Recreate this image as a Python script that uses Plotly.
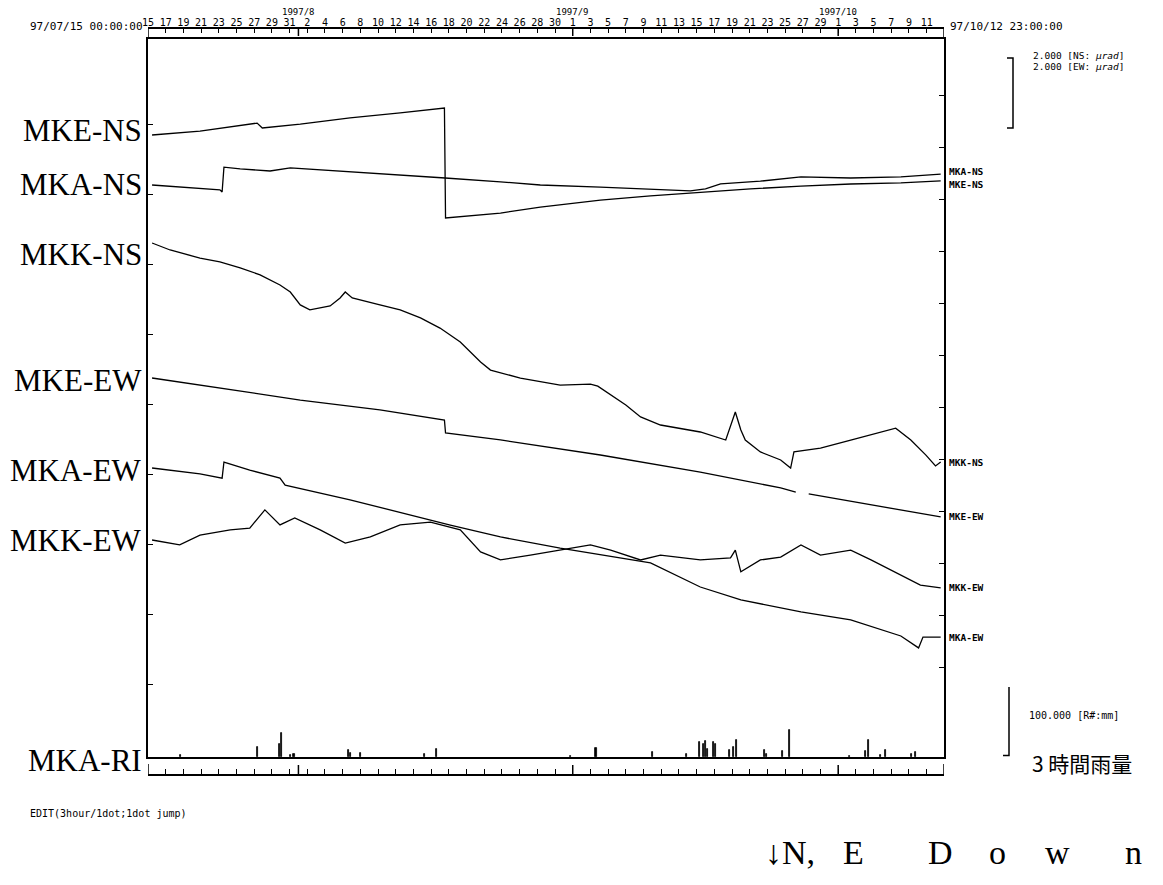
import plotly.graph_objects as go
import pandas as pd

# ---------------- data (tilt change in micro-radians, relative to start) ----------------
mke_ns_t = ["1997-07-15 11:00", "1997-07-20 21:00", "1997-07-27 08:00", "1997-07-27 22:00", "1997-08-01 05:00",
            "1997-08-06 20:00", "1997-08-12 12:00", "1997-08-17 12:00", "1997-08-17 15:00", "1997-08-23 20:00",
            "1997-08-28 08:00", "1997-09-04 03:00", "1997-09-09 19:00", "1997-09-15 10:00", "1997-09-21 02:00",
            "1997-09-26 19:00", "1997-10-02 10:00", "1997-10-08 02:00", "1997-10-12 14:00"]
mke_ns_v = [0.00, 0.11, 0.34, 0.20, 0.31, 0.49, 0.63, 0.77, -2.37, -2.23,
            -2.06, -1.86, -1.74, -1.63, -1.54, -1.46, -1.40, -1.37, -1.31]

mka_ns_t = ["1997-07-15 11:00", "1997-07-18 14:00", "1997-07-20 21:00", "1997-07-23 03:00", "1997-07-23 09:00",
            "1997-07-23 14:00", "1997-07-25 10:00", "1997-07-28 19:00", "1997-07-31 02:00", "1997-08-03 11:00",
            "1997-08-06 20:00", "1997-08-12 12:00", "1997-08-17 14:00", "1997-08-23 20:00", "1997-08-28 08:00",
            "1997-09-04 03:00", "1997-09-09 19:00", "1997-09-14 07:00", "1997-09-16 00:00", "1997-09-17 17:00",
            "1997-09-22 05:00", "1997-09-25 15:00", "1997-09-26 19:00", "1997-10-02 10:00", "1997-10-08 02:00",
            "1997-10-12 14:00"]
mka_ns_v = [0.00, -0.06, -0.09, -0.14, -0.20, 0.51, 0.46, 0.40, 0.49, 0.43,
            0.37, 0.29, 0.20, 0.09, 0.00, -0.06, -0.11, -0.17, -0.11, 0.03,
            0.11, 0.20, 0.23, 0.20, 0.23, 0.31]

mkk_ns_t = ["1997-07-15 11:00", "1997-07-17 12:00", "1997-07-20 21:00", "1997-07-23 03:00", "1997-07-25 10:00",
            "1997-07-27 16:00", "1997-07-29 22:00", "1997-07-31 02:00", "1997-08-01 05:00", "1997-08-02 07:00",
            "1997-08-04 14:00", "1997-08-05 17:00", "1997-08-06 07:00", "1997-08-07 02:00", "1997-08-10 05:00",
            "1997-08-12 12:00", "1997-08-14 19:00", "1997-08-17 00:00", "1997-08-19 07:00", "1997-08-20 10:00",
            "1997-08-21 14:00", "1997-08-22 17:00", "1997-08-26 02:00", "1997-08-30 14:00", "1997-09-03 00:00",
            "1997-09-03 20:00", "1997-09-05 07:00", "1997-09-07 00:00", "1997-09-08 16:00", "1997-09-10 22:00",
            "1997-09-15 10:00", "1997-09-18 07:00", "1997-09-19 09:00", "1997-09-20 00:00", "1997-09-20 12:00",
            "1997-09-22 05:00", "1997-09-24 12:00", "1997-09-25 15:00", "1997-09-26 00:00", "1997-09-29 00:00",
            "1997-10-02 10:00", "1997-10-05 19:00", "1997-10-07 12:00", "1997-10-09 05:00", "1997-10-10 22:00",
            "1997-10-12 00:00", "1997-10-12 14:00"]
mkk_ns_v = [0.00, -0.20, -0.43, -0.54, -0.71, -0.91, -1.20, -1.40, -1.77, -1.91,
            -1.80, -1.57, -1.40, -1.57, -1.77, -1.91, -2.14, -2.43, -2.83, -3.11,
            -3.40, -3.63, -3.86, -4.06, -4.03, -4.09, -4.34, -4.63, -4.97, -5.20,
            -5.40, -5.63, -4.83, -5.34, -5.63, -5.97, -6.20, -6.43, -5.97, -5.86,
            -5.63, -5.40, -5.29, -5.63, -6.06, -6.37, -6.26]

mke_ew_t = ["1997-07-15 11:00", "1997-07-23 03:00", "1997-08-01 05:00", "1997-08-10 05:00", "1997-08-17 12:00",
            "1997-08-17 15:00", "1997-08-23 20:00", "1997-09-04 03:00", "1997-09-15 10:00", "1997-09-24 12:00",
            "1997-09-26 05:00", "1997-09-27 00:00", "1997-09-27 16:00", "1997-10-04 17:00", "1997-10-12 14:00"]
mke_ew_v = [0.00, -0.29, -0.63, -0.91, -1.20, -1.57, -1.77, -2.20, -2.69, -3.14,
            -3.26, None, -3.31, -3.63, -3.97]

mka_ew_t = ["1997-07-15 11:00", "1997-07-20 21:00", "1997-07-23 09:00", "1997-07-23 14:00", "1997-07-26 12:00",
            "1997-07-29 22:00", "1997-07-30 12:00", "1997-08-06 20:00", "1997-08-18 04:00", "1997-08-23 20:00",
            "1997-08-30 14:00", "1997-09-09 19:00", "1997-09-15 10:00", "1997-09-20 00:00", "1997-09-26 19:00",
            "1997-10-02 10:00", "1997-10-08 02:00", "1997-10-10 02:00", "1997-10-10 14:00", "1997-10-12 14:00"]
mka_ew_v = [0.00, -0.17, -0.29, 0.17, -0.06, -0.29, -0.49, -0.91, -1.63, -1.97,
            -2.29, -2.71, -3.40, -3.77, -4.11, -4.34, -4.80, -5.14, -4.83, -4.83]

mkk_ew_t = ["1997-07-15 11:00", "1997-07-18 14:00", "1997-07-20 21:00", "1997-07-24 07:00", "1997-07-26 12:00",
            "1997-07-28 05:00", "1997-07-29 22:00", "1997-07-31 14:00", "1997-08-03 11:00", "1997-08-06 07:00",
            "1997-08-09 03:00", "1997-08-12 12:00", "1997-08-15 22:00", "1997-08-19 07:00", "1997-08-21 14:00",
            "1997-08-23 20:00", "1997-08-27 05:00", "1997-08-30 14:00", "1997-09-03 00:00", "1997-09-05 07:00",
            "1997-09-08 16:00", "1997-09-10 22:00", "1997-09-15 10:00", "1997-09-18 20:00", "1997-09-19 09:00",
            "1997-09-20 00:00", "1997-09-22 05:00", "1997-09-24 12:00", "1997-09-26 19:00", "1997-09-29 00:00",
            "1997-10-02 10:00", "1997-10-04 17:00", "1997-10-08 02:00", "1997-10-10 07:00", "1997-10-12 14:00"]
mkk_ew_v = [0.00, -0.14, 0.14, 0.29, 0.34, 0.86, 0.43, 0.63, 0.29, -0.09,
            0.09, 0.43, 0.51, 0.29, -0.34, -0.57, -0.43, -0.29, -0.14, -0.29,
            -0.57, -0.43, -0.57, -0.51, -0.29, -0.91, -0.57, -0.49, -0.14, -0.43,
            -0.29, -0.57, -1.00, -1.29, -1.37]

# 3-hour rainfall at MKA (mm)
rain_t = ["1997-07-18 15:00", "1997-07-27 09:00", "1997-07-29 21:00", "1997-07-30 03:00", "1997-07-31 03:00",
          "1997-07-31 12:00", "1997-08-06 15:00", "1997-08-06 21:00", "1997-08-08 00:00", "1997-08-15 06:00",
          "1997-08-16 15:00", "1997-08-31 18:00", "1997-09-03 15:00", "1997-09-10 00:00", "1997-09-13 21:00",
          "1997-09-15 09:00", "1997-09-15 18:00", "1997-09-16 00:00", "1997-09-16 06:00", "1997-09-16 21:00",
          "1997-09-17 03:00", "1997-09-18 18:00", "1997-09-19 03:00", "1997-09-19 12:00", "1997-09-22 15:00",
          "1997-09-22 21:00", "1997-09-24 18:00", "1997-09-25 12:00", "1997-10-02 06:00", "1997-10-04 03:00",
          "1997-10-04 09:00", "1997-10-05 18:00", "1997-10-06 09:00", "1997-10-09 06:00", "1997-10-09 18:00"]
rain_mm = [3, 15, 18, 34, 3, 5, 10, 6, 6, 5,
           12, 2, 13, 7, 4, 22, 18, 23, 12, 21,
           19, 10, 15, 24, 10, 5, 8, 39, 2, 8,
           25, 3, 10, 4, 7]

top_tick_labels = ["15", "17", "19", "21", "23", "25", "27", "29", "31",
                   "2", "4", "6", "8", "10", "12", "14", "16", "18", "20", "22", "24", "26", "28", "30",
                   "1", "3", "5", "7", "9", "11", "13", "15", "17", "19", "21", "23", "25", "27", "29",
                   "1", "3", "5", "7", "9", "11"]
month_labels = ["1997/8", "1997/9", "1997/10"]
month_starts = ["1997-08-01", "1997-09-01", "1997-10-01"]

series_names = ["MKE-NS", "MKA-NS", "MKK-NS", "MKE-EW", "MKA-EW", "MKK-EW"]

# ---------------- layout parameters (reference pixel coordinates) ----------------
BODY = 8
W, H = 1163 - 2 * BODY, 885 - 2 * BODY
REF_L, REF_R, REF_T, REF_B = 148, 944, 28, 775   # plotting area edges in reference pixels
ML, MT = REF_L - BODY, REF_T - BODY
MR = W - (REF_R - BODY)
MB = H - (REF_B - BODY)
PW = W - ML - MR
PH = H - MT - MB
X0, X1 = "1997-07-15 00:00", "1997-10-12 23:00"
FRAME_TOP, FRAME_BOT = 39, 757
PX_PER_URAD = 35.0


def py(p):  # reference pixel row -> paper y
    return (REF_B - p) / PH


def px(p):  # reference pixel column -> paper x
    return (p - REF_L) / PW


def uy(p):  # reference pixel row -> main y-axis value
    return -(p - FRAME_TOP) / PX_PER_URAD


# vertical placement of each trace (position of the start point)
offsets = {"MKE-NS": uy(135), "MKA-NS": uy(185), "MKK-NS": uy(243),
           "MKE-EW": uy(378), "MKA-EW": uy(468), "MKK-EW": uy(540)}
left_label_shift = {"MKE-NS": 4, "MKA-NS": 0, "MKK-NS": -12, "MKE-EW": -2, "MKA-EW": -2, "MKK-EW": 0}
right_label_shift = {"MKE-NS": -4, "MKA-NS": 3, "MKK-NS": 0, "MKE-EW": 0, "MKA-EW": 0, "MKK-EW": 0}

data = {
    "MKE-NS": (mke_ns_t, mke_ns_v),
    "MKA-NS": (mka_ns_t, mka_ns_v),
    "MKK-NS": (mkk_ns_t, mkk_ns_v),
    "MKE-EW": (mke_ew_t, mke_ew_v),
    "MKA-EW": (mka_ew_t, mka_ew_v),
    "MKK-EW": (mkk_ew_t, mkk_ew_v),
}

MONO = "DejaVu Sans Mono"
SERIF = "Liberation Serif"

fig = go.Figure()

for name in series_names:
    t, v = data[name]
    off = offsets[name]
    yy = [None if val is None else val + off for val in v]
    fig.add_trace(go.Scatter(x=t, y=yy, mode="lines", connectgaps=False,
                             line=dict(color="black", width=1.3), showlegend=False,
                             hoverinfo="skip", name=name))

fig.add_trace(go.Bar(x=rain_t, y=rain_mm, xaxis="x", yaxis="y2",
                     width=3 * 3600 * 1000, marker=dict(color="black", line=dict(color="black", width=0.8)),
                     showlegend=False, hoverinfo="skip"))

# helper traces so the extra axes are drawn
fig.add_trace(go.Scatter(x=[X0, X1], y=[None, None], xaxis="x2", yaxis="y", showlegend=False, hoverinfo="skip"))
fig.add_trace(go.Scatter(x=[X0, X1], y=[None, None], xaxis="x3", yaxis="y", showlegend=False, hoverinfo="skip"))
fig.add_trace(go.Scatter(x=[X0, X1], y=[None, None], xaxis="x", yaxis="y3", showlegend=False, hoverinfo="skip"))

tick_dates = list(pd.date_range("1997-07-15", periods=len(top_tick_labels), freq="2D"))
y_range = [uy(FRAME_BOT), 0]
left_ticks = [uy(p) for p in range(124, 740, 70)]
right_ticks = [uy(p) for p in range(95, 740, 52)]

fig.update_layout(
    width=W, height=H, margin=dict(l=ML, r=MR, t=MT, b=MB, pad=0, autoexpand=False),
    paper_bgcolor="white", plot_bgcolor="white", bargap=0,
    xaxis=dict(type="date", range=[X0, X1], domain=[0, 1], anchor="y", showline=True, mirror=True,
               linecolor="black", linewidth=1.5, showgrid=False, zeroline=False, ticks="", showticklabels=False),
    xaxis2=dict(type="date", range=[X0, X1], overlaying="x", anchor="free", position=1, side="top",
                tickmode="array", tickvals=tick_dates, ticktext=top_tick_labels, ticks="inside", ticklen=4,
                tickwidth=1.3, tickcolor="black", showline=True, linecolor="black", linewidth=1.5,
                showgrid=False, zeroline=False, tickangle=0, automargin=False, ticklabelstandoff=-3,
                tickfont=dict(family=MONO, size=10, color="black")),
    xaxis3=dict(type="date", range=[X0, X1], overlaying="x", anchor="free", position=0, side="bottom",
                tickmode="array", tickvals=tick_dates, ticks="inside", ticklen=5, tickwidth=1.3,
                tickcolor="black", showline=True, linecolor="black", linewidth=1.5, showgrid=False,
                zeroline=False, showticklabels=False),
    yaxis=dict(domain=[py(FRAME_BOT), py(FRAME_TOP)], range=y_range, anchor="x", showline=True, mirror=True,
               linecolor="black", linewidth=1.5, ticks="inside", ticklen=5, tickcolor="black",
               tickmode="array", tickvals=left_ticks, showticklabels=False, showgrid=False, zeroline=False),
    yaxis2=dict(domain=[py(FRAME_BOT), py(687)], range=[0, 100], anchor="x", visible=False),
    yaxis3=dict(range=y_range, overlaying="y", side="right", anchor="x", ticks="inside", ticklen=5,
                tickcolor="black", tickmode="array", tickvals=right_ticks, showticklabels=False,
                showline=False, showgrid=False, zeroline=False),
)

shapes = []
# long month ticks and end caps on top and bottom time bars
for d in month_starts:
    shapes.append(dict(type="line", xref="x", yref="paper", x0=d, x1=d, y0=1, y1=py(REF_T + 8),
                       line=dict(color="black", width=1.5)))
    shapes.append(dict(type="line", xref="x", yref="paper", x0=d, x1=d, y0=0, y1=py(REF_B - 10),
                       line=dict(color="black", width=1.5)))
for d in [X0, X1]:
    shapes.append(dict(type="line", xref="x", yref="paper", x0=d, x1=d, y0=1, y1=py(REF_T + 9),
                       line=dict(color="black", width=1.5)))
    shapes.append(dict(type="line", xref="x", yref="paper", x0=d, x1=d, y0=0, y1=py(REF_B - 11),
                       line=dict(color="black", width=1.5)))
# scale bracket 2 micro-rad
yb0 = uy(58)
shapes.append(dict(type="path", xref="paper", yref="y",
                   path=f"M {px(1007)},{yb0} L {px(1013)},{yb0} L {px(1013)},{yb0 - 2} L {px(1007)},{yb0 - 2}",
                   line=dict(color="black", width=1.5)))
# rain scale bracket 100 mm
shapes.append(dict(type="path", xref="paper", yref="y2",
                   path=f"M {px(1003)},102 L {px(1009)},102 L {px(1009)},2 L {px(1003)},2",
                   line=dict(color="black", width=1.5)))
fig.update_layout(shapes=shapes)

ann = []
for name in series_names:
    t, v = data[name]
    ann.append(dict(text=name, xref="paper", yref="y", x=px(144), y=offsets[name], xanchor="right",
                    yanchor="middle", yshift=left_label_shift[name], showarrow=False,
                    font=dict(family=SERIF, size=31, color="black")))
    last = [val for val in v if val is not None][-1]
    ann.append(dict(text="<b>" + name + "</b>", xref="paper", yref="y", x=px(947), y=last + offsets[name],
                    xanchor="left", yanchor="middle", yshift=right_label_shift[name], showarrow=False,
                    font=dict(family=MONO, size=9.5, color="black")))
ann.append(dict(text="MKA-RI", xref="paper", yref="y2", x=px(144), y=0, yshift=-3, xanchor="right",
                yanchor="middle", showarrow=False, font=dict(family=SERIF, size=31, color="black")))
for lab, d in zip(month_labels, month_starts):
    ann.append(dict(text=lab, xref="x", yref="paper", x=d, y=py(12), xanchor="center", yanchor="middle",
                    showarrow=False, font=dict(family=MONO, size=9, color="black")))
texts = [
    ("97/07/15 00:00:00", 145, 27, "right", MONO, 11),
    ("97/10/12 23:00:00", 948, 27, "left", MONO, 11),
    ("2.000 [NS: <i>μrad</i>]", 1031, 55, "left", MONO, 9.5),
    ("2.000 [EW: <i>μrad</i>]", 1031, 67, "left", MONO, 9.5),
    ("100.000 [R#:mm]", 1027, 715, "left", MONO, 10),
    ("3 時間雨量", 1030, 763, "left", "Noto Sans CJK JP", 21),
    ("EDIT(3hour/1dot;1dot jump)", 28, 813, "left", MONO, 10),
]
for s, xx, yy, xa, fam, sz in texts:
    ann.append(dict(text=s, xref="paper", yref="paper", x=px(xx), y=py(yy), xanchor=xa, yanchor="middle",
                    showarrow=False, font=dict(family=fam, size=sz, color="black")))
for s, xx in [("↓N,", 790), ("E", 853), ("D", 940), ("o", 998), ("w", 1057), ("n", 1133)]:
    ann.append(dict(text=s, xref="paper", yref="paper", x=px(xx), y=py(852), xanchor="center",
                    yanchor="middle", showarrow=False, font=dict(family=SERIF, size=34, color="black")))
fig.update_layout(annotations=ann)

fig.write_html("out.html")
